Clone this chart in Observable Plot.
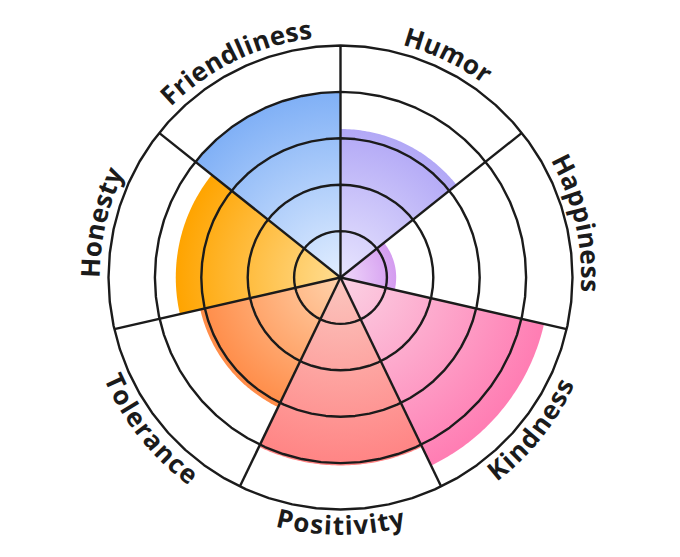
<!DOCTYPE html>
<html><head><meta charset="utf-8">
<script src="https://cdn.jsdelivr.net/npm/d3@7"></script>
<script src="https://cdn.jsdelivr.net/npm/@observablehq/plot@0.6"></script>
<style>body{margin:0;background:#fff} #chart{width:680px;height:557px}</style>
</head><body><div id="chart"></div>
<script>
// ---- data ----
const categories = ["Humor","Happiness","Kindness","Positivity","Tolerance","Honesty","Friendliness"];
const values = [3.2, 1.2, 4.5, 4.05, 3.1, 3.55, 4.0];
const rings = [1, 2, 3, 4, 5];
// ---- styles ----
const innerColors = ["#e8e5fe","#f0d8fa","#fbd2e4","#fbc6bf","#ffd2ab","#ffdd92","#e2eeff"];
const outerColors = ["#b2a8f6","#d49cf0","#ff7db3","#ff8484","#ff8c48","#ffa400","#80b0f6"];

const W = 680, H = 557, mL = 108, mR = 108, mT = 45, mB = 48;
const maxR = d3.max(rings);
const unit = (W - mL - mR) / (2 * maxR);
const n = categories.length, step = 2 * Math.PI / n;
const arcSteps = 60;
const ink = "#1b1b1b";

function arcPts(a0, a1, r) {
  const pts = [];
  for (let k = 0; k <= arcSteps; k++) {
    const a = a0 + (a1 - a0) * k / arcSteps;
    pts.push({x: r * Math.sin(a), y: r * Math.cos(a)});
  }
  return pts;
}

const sectorMarks = categories.map((c, i) => {
  const pts = [{x: 0, y: 0}, ...arcPts(i * step, (i + 1) * step, values[i]), {x: 0, y: 0}];
  return Plot.line(pts, {x: "x", y: "y", fill: `url(#grad-${i})`, stroke: "none", curve: "linear"});
});

const ringPts = rings.flatMap(r => arcPts(0, 2 * Math.PI, r).map(p => ({...p, r})));
const spokes = d3.range(n).map(i => ({x2: maxR * Math.sin(i * step), y2: maxR * Math.cos(i * step)}));

// label glyphs laid out along the arc
const fontSize = 26, fontFamily = "'Open Sans', 'Noto Sans', sans-serif";
const ctx = document.createElement("canvas").getContext("2d");
ctx.font = `700 ${fontSize}px ${fontFamily}`;
const labelRpx = 249, letterSpacing = 0.8;
const labelR = labelRpx / unit;
const glyphs = [];
categories.forEach((label, i) => {
  const c = (i + 0.5) * step;
  const top = Math.cos(c) > 0;
  const chars = [...label];
  const widths = chars.map(ch => ctx.measureText(ch).width + letterSpacing);
  const total = d3.sum(widths);
  let cum = 0;
  chars.forEach((ch, j) => {
    const off = cum + widths[j] / 2 - total / 2;
    cum += widths[j];
    const a = top ? c + off / labelRpx : c - off / labelRpx;
    const deg = a * 180 / Math.PI;
    glyphs.push({ch, x: labelR * Math.sin(a), y: labelR * Math.cos(a), rot: top ? deg : deg - 180});
  });
});

const gradients = (index, scales) => {
  const cx = scales.x(0), cy = scales.y(0);
  const defs = d3.create("svg:defs");
  values.forEach((v, i) => {
    const g = defs.append("radialGradient").attr("id", `grad-${i}`)
      .attr("gradientUnits", "userSpaceOnUse")
      .attr("cx", cx).attr("cy", cy).attr("r", scales.x(v) - cx);
    g.append("stop").attr("offset", 0).attr("stop-color", innerColors[i]);
    g.append("stop").attr("offset", 1).attr("stop-color", outerColors[i]);
  });
  return defs.node();
};

const chart = Plot.plot({
  width: W, height: H,
  marginLeft: mL, marginRight: mR, marginTop: mT, marginBottom: mB,
  x: {domain: [-maxR, maxR], axis: null},
  y: {domain: [-maxR, maxR], axis: null},
  style: {background: "white", overflow: "visible"},
  marks: [
    gradients,
    ...sectorMarks,
    Plot.line(ringPts, {x: "x", y: "y", z: "r", stroke: ink, strokeWidth: 2.4, fill: "none"}),
    Plot.link(spokes, {x1: 0, y1: 0, x2: "x2", y2: "y2", stroke: ink, strokeWidth: 2.4}),
    Plot.text(glyphs, {x: "x", y: "y", text: "ch", rotate: "rot", fontSize, fontWeight: 700,
      fontFamily, fill: ink, textAnchor: "middle", lineAnchor: "middle"})
  ]
});
document.getElementById("chart").append(chart);
</script>
</body></html>
